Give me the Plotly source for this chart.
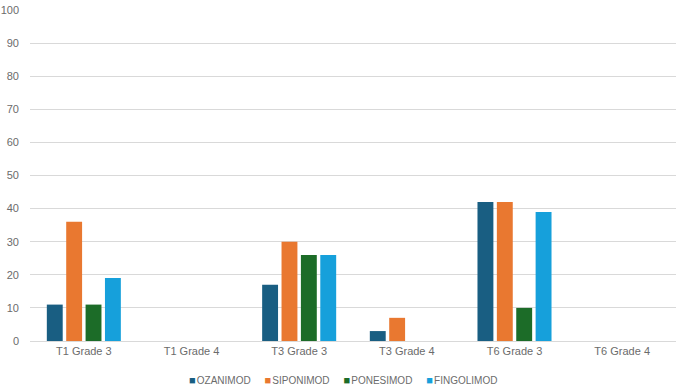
import plotly.graph_objects as go

categories = ["T1 Grade 3", "T1 Grade 4", "T3 Grade 3", "T3 Grade 4", "T6 Grade 3", "T6 Grade 4"]
ozanimod = [11, 0, 17, 3, 42, 0]
siponimod = [36, 0, 30, 7, 42, 0]
ponesimod = [11, 0, 26, 0, 10, 0]
fingolimod = [19, 0, 26, 0, 39, 0]
series_names = ["OZANIMOD", "SIPONIMOD", "PONESIMOD", "FINGOLIMOD"]
series_values = [ozanimod, siponimod, ponesimod, fingolimod]
colors = ["#195E82", "#E97830", "#1C6C28", "#16A0DB"]

TEXT = "#6B6B6B"

fig = go.Figure()
for name, vals, col in zip(series_names, series_values, colors):
    fig.add_trace(go.Bar(x=categories, y=vals, name=name, marker_color=col,
                         marker_line_width=0, showlegend=False))

# compact legend row: small coloured square glyph directly before each name
gap = "&nbsp;" * 5
legend_text = gap.join(
    f"<span style='color:{col};font-size:11px'>■</span><span style='font-size:4px'>&nbsp;</span>{name}"
    for name, col in zip(series_names, colors))
fig.add_annotation(text=legend_text, xref="paper", yref="paper", x=0.484, y=-0.118,
                   xanchor="center", yanchor="middle", showarrow=False,
                   font=dict(size=10, color=TEXT))

fig.update_layout(
    width=678, height=387,
    margin=dict(l=30, r=2, t=10, b=46, autoexpand=False),
    paper_bgcolor="white", plot_bgcolor="white",
    barmode="group", bargap=0.28, bargroupgap=0.18,
    font=dict(family="Liberation Sans, Arial, sans-serif", size=11, color=TEXT),
    showlegend=False,
    xaxis=dict(showgrid=False, showline=True, linecolor="#D9D9D9", linewidth=1,
               ticks="", automargin=False, tickfont=dict(size=11, color=TEXT)),
    yaxis=dict(range=[0, 100], dtick=10, showgrid=True, gridcolor="#D9D9D9",
               gridwidth=1, zeroline=False, ticks="", ticklabelstandoff=10,
               automargin=False, tickfont=dict(size=11, color=TEXT)),
)

fig.write_html("out.html", config={"displayModeBar": False},
               post_script="document.body.style.margin='0';")
